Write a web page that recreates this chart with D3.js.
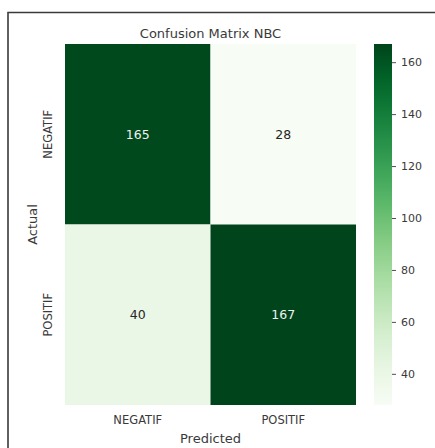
<!DOCTYPE html>
<html>
<head>
<meta charset="utf-8">
<script src="https://cdn.jsdelivr.net/npm/d3@7"></script>
<style>
  html, body { margin: 0; padding: 0; background: #fff; }
  svg { display: block; font-family: "DejaVu Sans", sans-serif; }
</style>
</head>
<body>
<svg id="chart" width="435" height="448"></svg>
<script>
// Confusion matrix for the Naive Bayes classifier
const actualLabels = ["NEGATIF", "POSITIF"];
const predictedLabels = ["NEGATIF", "POSITIF"];
const matrixRows = [
  [165, 28],
  [40, 167]
];
const colorbarTicks = [40, 60, 80, 100, 120, 140, 160];

const svg = d3.select("#chart");
const textColor = "#3a3a3a";

// outer frame
svg.append("path")
  .attr("d", "M8,448 V12.5 H435")
  .attr("fill", "none")
  .attr("stroke", "#3a3a3a")
  .attr("stroke-width", 1.6);

const plot = { left: 65, right: 356, top: 44, bottom: 405 };

const x = d3.scaleBand().domain(predictedLabels).range([plot.left, plot.right]);
const y = d3.scaleBand().domain(actualLabels).range([plot.top, plot.bottom]);

const flat = matrixRows.flat();
const vmin = d3.min(flat), vmax = d3.max(flat);
const color = d3.scaleSequential(d3.interpolateGreens).domain([vmin, vmax]);

const cells = [];
matrixRows.forEach((row, i) => row.forEach((v, j) => cells.push({ actual: actualLabels[i], predicted: predictedLabels[j], value: v })));

svg.append("g").selectAll("rect")
  .data(cells).join("rect")
  .attr("x", d => x(d.predicted))
  .attr("y", d => y(d.actual))
  .attr("width", x.bandwidth())
  .attr("height", y.bandwidth())
  .attr("fill", d => color(d.value));

svg.append("g").selectAll("text")
  .data(cells).join("text")
  .attr("x", d => x(d.predicted) + x.bandwidth() / 2)
  .attr("y", d => y(d.actual) + y.bandwidth() / 2)
  .attr("text-anchor", "middle")
  .attr("dominant-baseline", "central")
  .attr("font-size", 12.5)
  .attr("fill", d => (d.value - vmin) / (vmax - vmin) > 0.5 ? "#f0f0f0" : "#262626")
  .text(d => d.value);

// axes (labels only, no tick marks)
const xAxis = svg.append("g")
  .attr("transform", `translate(0,${plot.bottom})`)
  .call(d3.axisBottom(x).tickSize(0).tickPadding(11));
xAxis.select(".domain").remove();
xAxis.selectAll("text").attr("font-size", 11.5).attr("fill", textColor).attr("font-family", "DejaVu Sans");

const yAxis = svg.append("g")
  .attr("transform", `translate(${plot.left},0)`)
  .call(d3.axisLeft(y).tickSize(0).tickPadding(0));
yAxis.select(".domain").remove();
yAxis.selectAll("text")
  .attr("font-size", 11.5).attr("fill", textColor).attr("font-family", "DejaVu Sans")
  .attr("text-anchor", "middle")
  .attr("x", 0).attr("dy", 0)
  .attr("transform", "translate(-13,0) rotate(-90)");

// titles
svg.append("text")
  .attr("x", (plot.left + plot.right) / 2).attr("y", 38)
  .attr("text-anchor", "middle").attr("font-size", 13).attr("fill", textColor)
  .text("Confusion Matrix NBC");

svg.append("text")
  .attr("x", (plot.left + plot.right) / 2).attr("y", 443)
  .attr("text-anchor", "middle").attr("font-size", 13).attr("fill", textColor)
  .text("Predicted");

svg.append("text")
  .attr("transform", `translate(37,${(plot.top + plot.bottom) / 2}) rotate(-90)`)
  .attr("text-anchor", "middle").attr("font-size", 13).attr("fill", textColor)
  .text("Actual");

// colorbar
const cb = { left: 374, width: 18 };
const cbScale = d3.scaleLinear().domain([vmin, vmax]).range([plot.bottom, plot.top]);
const defs = svg.append("defs");
const grad = defs.append("linearGradient")
  .attr("id", "cbgrad").attr("x1", 0).attr("y1", 1).attr("x2", 0).attr("y2", 0);
d3.range(0, 1.0001, 0.05).forEach(t => {
  grad.append("stop").attr("offset", t).attr("stop-color", color(vmin + t * (vmax - vmin)));
});
svg.append("rect")
  .attr("x", cb.left).attr("y", plot.top)
  .attr("width", cb.width).attr("height", plot.bottom - plot.top)
  .attr("fill", "url(#cbgrad)");

const cbAxis = svg.append("g")
  .attr("transform", `translate(${cb.left + cb.width},0)`)
  .call(d3.axisRight(cbScale).tickValues(colorbarTicks).tickSize(4).tickPadding(5));
cbAxis.select(".domain").remove();
cbAxis.selectAll("line").attr("stroke", textColor).attr("stroke-width", 0.9);
cbAxis.selectAll("text").attr("font-size", 11).attr("fill", textColor).attr("font-family", "DejaVu Sans");
</script>
</body>
</html>
